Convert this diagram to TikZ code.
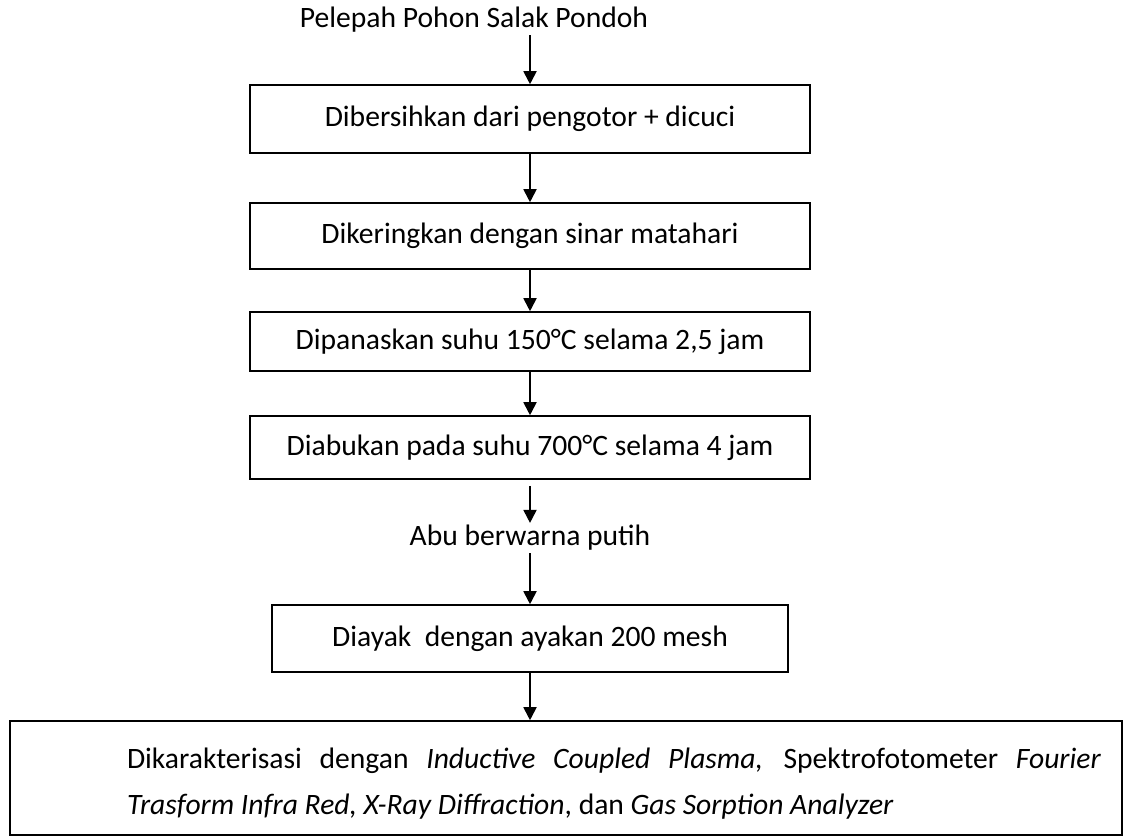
\documentclass[tikz,border=0pt]{standalone}
\usepackage{fontspec}
\setmainfont{Carlito}
\usetikzlibrary{
    shapes,
    positioning,
    arrows.meta,
    calc
}
\tikzset{
  basic/.style = {
      font=\fontsize{14.8pt}{17pt}\selectfont,
      align=center
  },
  stepbox/.style = {
      basic,
      draw,
      rectangle,
      line width=0.8pt,
      minimum width=280pt,
      inner sep=0pt
  },
  plain/.style = {
      basic,
      draw=none,
      inner sep=1pt
  },
  final/.style = {
      stepbox,
      minimum width=556pt,
      minimum height=57pt
  },
  flow/.style = {
      -{Triangle[width=6.5pt,length=6.5pt]},
      line width=0.9pt
  }
}

\begin{document}
\begin{tikzpicture}[x=0.5pt, y=-0.5pt]
        \useasboundingbox (0,0) rectangle (1125,836);
        % Start
        \node[plain] (start) at (474,20) {Pelepah Pohon Salak Pondoh};
        % Steps
        \node[stepbox, minimum height=34pt] (clean) at (530,119) {Dibersihkan dari pengotor + dicuci};
        \node[stepbox, minimum height=33pt] (dry) at (530,236) {Dikeringkan dengan sinar matahari};
        \node[stepbox, minimum height=29.5pt] (heat) at (530,341.5) {Dipanaskan suhu 150°C selama 2,5 jam};
        \node[stepbox, minimum height=31.5pt] (burn) at (530,447.5) {Diabukan pada suhu 700°C selama 4 jam};
        \node[plain] (ash) at (530,538) {Abu berwarna putih};
        \node[stepbox, minimum width=258pt, minimum height=33.5pt] (sieve) at (530,638.5) {Diayak\ \ dengan ayakan 200 mesh};
        \node[final] (charac) at (566,778) {\raisebox{-6.5pt}[0pt][0pt]{\hspace*{48pt}\parbox{487pt}{\fontsize{14.8pt}{23pt}\selectfont
            Dikarakterisasi dengan \textit{Inductive Coupled Plasma,} Spektrofotometer \textit{Fourier}\linebreak
            \textit{Trasform Infra Red, X-Ray Diffraction}, dan \textit{Gas Sorption Analyzer}}}};
        % Arrows
        \draw[flow] (clean.north |- start.south) -- (clean.north);
        \draw[flow] (clean) -- (dry);
        \draw[flow] (dry) -- (heat);
        \draw[flow] (heat) -- (burn);
        \draw[flow, shorten <=3pt] (burn) -- (ash);
        \draw[flow] (ash) -- (sieve);
        \draw[flow] (sieve.south) -- (sieve.south |- charac.north);
    \end{tikzpicture}
\end{document}
